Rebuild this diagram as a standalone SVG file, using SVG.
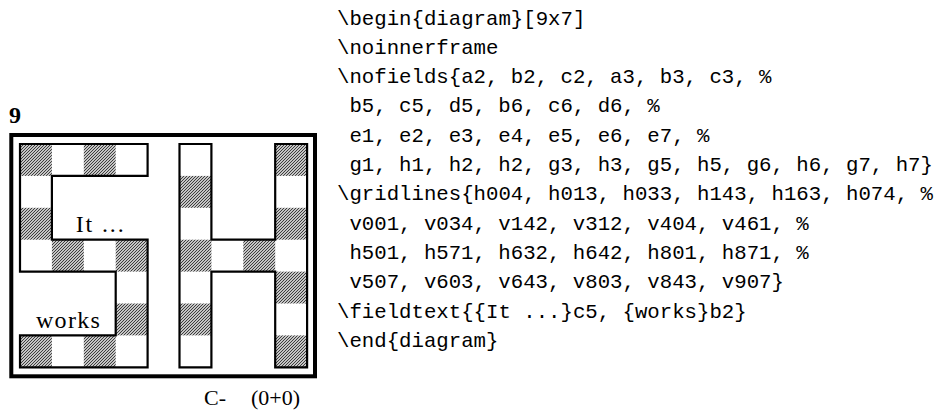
<svg xmlns="http://www.w3.org/2000/svg" width="940" height="411" viewBox="0 0 940 411">
<style>
.code{font-family:"Liberation Mono","DejaVu Sans Mono",monospace;font-size:20.7px;fill:#000}
.rm{font-family:"Liberation Serif","DejaVu Serif",serif;font-size:24px;fill:#000}
.cap{font-family:"Liberation Serif","DejaVu Serif",serif;font-size:22px;fill:#000}
.h{fill:url(#hatch)}
.grid{fill:none;stroke:#000;stroke-width:2.2;stroke-linecap:square}
</style>
<defs>
<pattern id="hatch" patternUnits="userSpaceOnUse" width="3" height="3">
<rect width="3" height="3" fill="#fff"/>
<path d="M-1,1 L1,-1 M0,3 L3,0 M2,4 L4,2" stroke="#333" stroke-width="1.1"/>
</pattern>
</defs>
<rect width="940" height="411" fill="#fff"/>
<g id="number"><text class="rm" x="9" y="123.3" font-weight="bold">9</text></g>
<g id="frame"><rect x="11.3" y="135" width="303.7" height="241.3" fill="none" stroke="#000" stroke-width="4"/></g>
<g id="board">
<rect class="h" x="20" y="335.4" width="31.9" height="31.9"/>
<rect class="h" x="20" y="207.8" width="31.9" height="31.9"/>
<rect class="h" x="20" y="144" width="31.9" height="31.9"/>
<rect class="h" x="51.9" y="239.7" width="31.9" height="31.9"/>
<rect class="h" x="83.8" y="335.4" width="31.9" height="31.9"/>
<rect class="h" x="83.8" y="144" width="31.9" height="31.9"/>
<rect class="h" x="115.7" y="303.5" width="31.9" height="31.9"/>
<rect class="h" x="115.7" y="239.7" width="31.9" height="31.9"/>
<rect class="h" x="179.5" y="303.5" width="31.9" height="31.9"/>
<rect class="h" x="179.5" y="239.7" width="31.9" height="31.9"/>
<rect class="h" x="179.5" y="175.9" width="31.9" height="31.9"/>
<rect class="h" x="243.3" y="239.7" width="31.9" height="31.9"/>
<rect class="h" x="275.2" y="335.4" width="31.9" height="31.9"/>
<rect class="h" x="275.2" y="271.6" width="31.9" height="31.9"/>
<rect class="h" x="275.2" y="207.8" width="31.9" height="31.9"/>
<rect class="h" x="275.2" y="144" width="31.9" height="31.9"/>
</g>
<g id="gridlines">
<path class="grid" d="M20,367.3 H147.6 M20,335.4 H115.7 M20,271.6 H115.7 M51.9,239.7 H147.6 M51.9,175.9 H147.6 M20,144 H147.6 M20,367.3 V335.4 M20,271.6 V144 M51.9,239.7 V175.9 M115.7,335.4 V271.6 M147.6,367.3 V239.7 M147.6,175.9 V144"/>
<path class="grid" d="M179.5,367.3 H211.4 M179.5,144 H211.4 M211.4,271.6 H275.2 M211.4,239.7 H275.2 M275.2,367.3 H307.1 M275.2,144 H307.1 M179.5,367.3 V144 M211.4,367.3 V271.6 M211.4,239.7 V144 M275.2,367.3 V271.6 M275.2,239.7 V144 M307.1,367.3 V144"/>
</g>
<g id="fieldtext">
<text class="rm" x="99.7" y="231.7" text-anchor="middle" textLength="48" lengthAdjust="spacing">It ...</text>
<text class="rm" x="67.9" y="328.3" text-anchor="middle" textLength="64" lengthAdjust="spacing">works</text>
</g>
<g id="caption">
<text class="cap" x="204" y="405">C-</text>
<text class="cap" x="251" y="405">(0+0)</text>
</g>
<g id="code">
<text class="code" x="337" y="24.5">\begin{diagram}[9x7]</text>
<text class="code" x="337" y="53.8">\noinnerframe</text>
<text class="code" x="337" y="83.1">\nofields{a2, b2, c2, a3, b3, c3, %</text>
<text class="code" x="349.4" y="112.4">b5, c5, d5, b6, c6, d6, %</text>
<text class="code" x="349.4" y="141.7">e1, e2, e3, e4, e5, e6, e7, %</text>
<text class="code" x="349.4" y="171">g1, h1, h2, h2, g3, h3, g5, h5, g6, h6, g7, h7}</text>
<text class="code" x="337" y="200.3">\gridlines{h004, h013, h033, h143, h163, h074, %</text>
<text class="code" x="349.4" y="229.6">v001, v034, v142, v312, v404, v461, %</text>
<text class="code" x="349.4" y="258.9">h501, h571, h632, h642, h801, h871, %</text>
<text class="code" x="349.4" y="288.2">v507, v603, v643, v803, v843, v907}</text>
<text class="code" x="337" y="317.5">\fieldtext{{It ...}c5, {works}b2}</text>
<text class="code" x="337" y="346.8">\end{diagram}</text>
</g>
</svg>
